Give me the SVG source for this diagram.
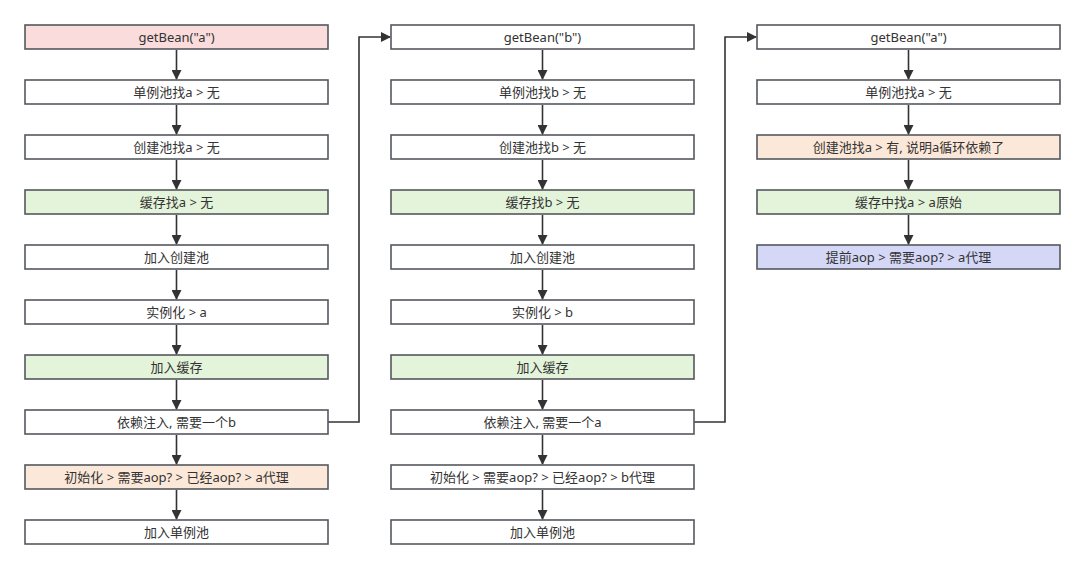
<svg xmlns="http://www.w3.org/2000/svg" width="1085" height="570" viewBox="0 0 1085 570">
<defs>
<marker id="ah" markerWidth="10" markerHeight="10" refX="9" refY="5" orient="auto" markerUnits="userSpaceOnUse">
<path d="M0,0 L10,5 L0,10 Z" fill="#333"/>
</marker>
<style>
.b{fill:#fff;stroke:#54585e;stroke-width:1.6}
.pink{fill:#fadcdc}
.green{fill:#e4f4da}
.orange{fill:#fce8d9}
.blue{fill:#d4d7f6}
text{font-family:"Noto Sans","Noto Sans CJK SC","Microsoft YaHei",sans-serif;font-size:13px;fill:#333;text-anchor:middle;dominant-baseline:central}
.c{fill:none;stroke:#333;stroke-width:1.6;marker-end:url(#ah)}
</style>
</defs>
<rect width="1085" height="570" fill="#fff"/>
<g id="connectors">
<path class="c" d="M176.5,50 V79"/>
<path class="c" d="M176.5,105 V134"/>
<path class="c" d="M176.5,160 V189"/>
<path class="c" d="M176.5,215 V244"/>
<path class="c" d="M176.5,270 V299"/>
<path class="c" d="M176.5,325 V354"/>
<path class="c" d="M176.5,380 V409"/>
<path class="c" d="M176.5,435 V464"/>
<path class="c" d="M176.5,490 V519"/>
<path class="c" d="M542.5,50 V79"/>
<path class="c" d="M542.5,105 V134"/>
<path class="c" d="M542.5,160 V189"/>
<path class="c" d="M542.5,215 V244"/>
<path class="c" d="M542.5,270 V299"/>
<path class="c" d="M542.5,325 V354"/>
<path class="c" d="M542.5,380 V409"/>
<path class="c" d="M542.5,435 V464"/>
<path class="c" d="M542.5,490 V519"/>
<path class="c" d="M908.5,50 V79"/>
<path class="c" d="M908.5,105 V134"/>
<path class="c" d="M908.5,160 V189"/>
<path class="c" d="M908.5,215 V244"/>
<path class="c" d="M328,422 H359 V37 H390"/>
<path class="c" d="M694,422 H725 V37 H756"/>
</g>
<g id="a1"><rect class="b pink" x="25" y="25" width="303" height="24"/><text x="176.5" y="37">getBean("a")</text></g>
<g id="a2"><rect class="b" x="25" y="80" width="303" height="24"/><text x="176.5" y="92">单例池找a &gt; 无</text></g>
<g id="a3"><rect class="b" x="25" y="135" width="303" height="24"/><text x="176.5" y="147">创建池找a &gt; 无</text></g>
<g id="a4"><rect class="b green" x="25" y="190" width="303" height="24"/><text x="176.5" y="202">缓存找a &gt; 无</text></g>
<g id="a5"><rect class="b" x="25" y="245" width="303" height="24"/><text x="176.5" y="257">加入创建池</text></g>
<g id="a6"><rect class="b" x="25" y="300" width="303" height="24"/><text x="176.5" y="312">实例化 &gt; a</text></g>
<g id="a7"><rect class="b green" x="25" y="355" width="303" height="24"/><text x="176.5" y="367">加入缓存</text></g>
<g id="a8"><rect class="b" x="25" y="410" width="303" height="24"/><text x="176.5" y="422">依赖注入, 需要一个b</text></g>
<g id="a9"><rect class="b orange" x="25" y="465" width="303" height="24"/><text x="176.5" y="477">初始化 &gt; 需要aop? &gt; 已经aop? &gt; a代理</text></g>
<g id="a10"><rect class="b" x="25" y="520" width="303" height="24"/><text x="176.5" y="532">加入单例池</text></g>
<g id="b1"><rect class="b" x="391" y="25" width="303" height="24"/><text x="542.5" y="37">getBean("b")</text></g>
<g id="b2"><rect class="b" x="391" y="80" width="303" height="24"/><text x="542.5" y="92">单例池找b &gt; 无</text></g>
<g id="b3"><rect class="b" x="391" y="135" width="303" height="24"/><text x="542.5" y="147">创建池找b &gt; 无</text></g>
<g id="b4"><rect class="b green" x="391" y="190" width="303" height="24"/><text x="542.5" y="202">缓存找b &gt; 无</text></g>
<g id="b5"><rect class="b" x="391" y="245" width="303" height="24"/><text x="542.5" y="257">加入创建池</text></g>
<g id="b6"><rect class="b" x="391" y="300" width="303" height="24"/><text x="542.5" y="312">实例化 &gt; b</text></g>
<g id="b7"><rect class="b green" x="391" y="355" width="303" height="24"/><text x="542.5" y="367">加入缓存</text></g>
<g id="b8"><rect class="b" x="391" y="410" width="303" height="24"/><text x="542.5" y="422">依赖注入, 需要一个a</text></g>
<g id="b9"><rect class="b" x="391" y="465" width="303" height="24"/><text x="542.5" y="477">初始化 &gt; 需要aop? &gt; 已经aop? &gt; b代理</text></g>
<g id="b10"><rect class="b" x="391" y="520" width="303" height="24"/><text x="542.5" y="532">加入单例池</text></g>
<g id="c1"><rect class="b" x="757" y="25" width="303" height="24"/><text x="908.5" y="37">getBean("a")</text></g>
<g id="c2"><rect class="b" x="757" y="80" width="303" height="24"/><text x="908.5" y="92">单例池找a &gt; 无</text></g>
<g id="c3"><rect class="b orange" x="757" y="135" width="303" height="24"/><text x="908.5" y="147">创建池找a &gt; 有, 说明a循环依赖了</text></g>
<g id="c4"><rect class="b green" x="757" y="190" width="303" height="24"/><text x="908.5" y="202">缓存中找a &gt; a原始</text></g>
<g id="c5"><rect class="b blue" x="757" y="245" width="303" height="24"/><text x="908.5" y="257">提前aop &gt; 需要aop? &gt; a代理</text></g>
</svg>
